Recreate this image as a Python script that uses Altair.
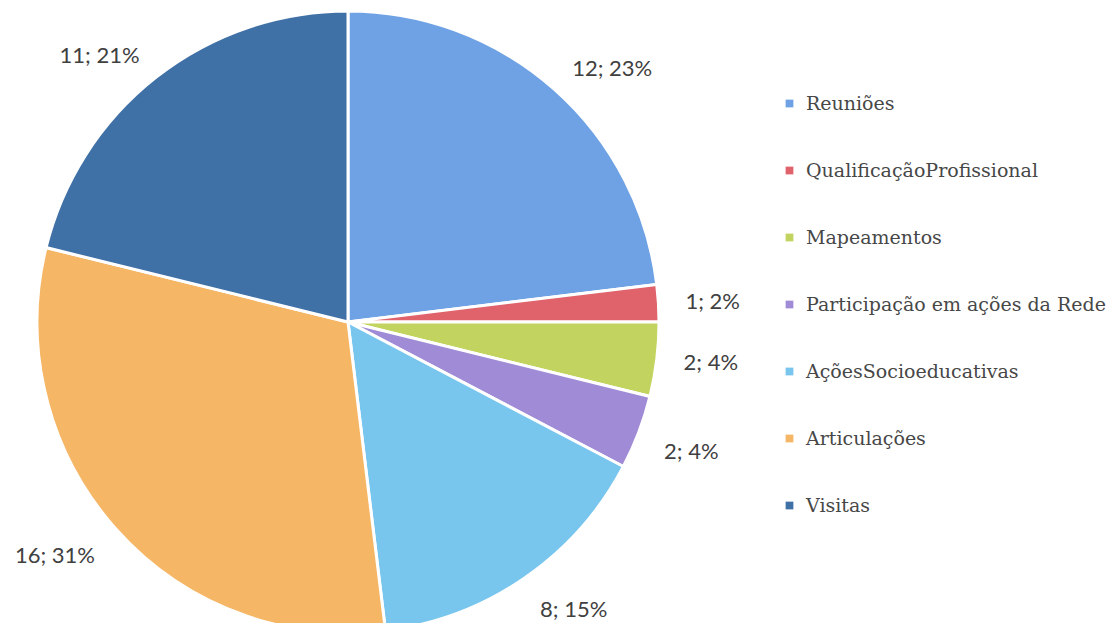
import altair as alt
import pandas as pd

categories = ["Reuniões", "QualificaçãoProfissional", "Mapeamentos",
              "Participação em ações da Rede", "AçõesSocioeducativas",
              "Articulações", "Visitas"]
values = [12, 1, 2, 2, 8, 16, 11]
percents = [23, 2, 4, 4, 15, 31, 21]
colors = ["#6fa2e4", "#e0626b", "#c3d35f", "#a08bd6", "#78c5ee", "#f5b666", "#3f70a6"]

df = pd.DataFrame({
    "cat": categories,
    "val": values,
    "idx": list(range(len(categories))),
    "label": [f"{v}; {p}%" for v, p in zip(values, percents)],
})

CX, CY = 340, 314

base = alt.Chart(df).transform_window(
    cum="sum(val)", sort=[alt.SortField("idx")]
).transform_joinaggregate(
    total="sum(val)"
).transform_calculate(
    start="(datum.cum - datum.val) / datum.total",
    end="datum.cum / datum.total",
    mid="(datum.cum - datum.val / 2) / datum.total",
)

theta_scale = alt.Scale(domain=[0, 1])

color = alt.Color(
    "cat:N",
    scale=alt.Scale(domain=categories, range=colors),
    sort=categories,
    legend=alt.Legend(
        title=None, orient="none", legendX=772, legendY=86,
        symbolType="square", symbolSize=60, symbolStrokeWidth=0,
        labelFont="DejaVu Serif", labelFontSize=19, labelColor="#474747",
        rowPadding=47, labelOffset=7, labelLimit=400,
    ),
)

pie = base.mark_arc(outerRadius=311, stroke="white", strokeWidth=3).encode(
    theta=alt.Theta("start:Q", scale=theta_scale),
    theta2="end:Q",
    color=color,
    x=alt.value(CX), y=alt.value(CY),
)

def label_layer(cond, align, baseline):
    return base.transform_filter(cond).mark_text(
        radius=338, font="Lato", fontSize=22, color="#404040",
        align=align, baseline=baseline,
    ).encode(
        theta=alt.Theta("mid:Q", scale=theta_scale),
        text="label:N",
        x=alt.value(CX), y=alt.value(CY),
    )

labels = [
    label_layer("datum.mid < 0.3", "left", "middle"),
    label_layer("datum.mid >= 0.3 && datum.mid < 0.5", "left", "top"),
    label_layer("datum.mid >= 0.5 && datum.mid < 0.75", "right", "top"),
    label_layer("datum.mid >= 0.75", "right", "middle"),
]

chart = alt.layer(pie, *labels).properties(
    width=1098, height=615, padding=0, background="white",
    autosize=alt.AutoSizeParams(type="none"),
).configure_view(stroke=None)

chart.save("out.html", embed_options={"renderer": "svg", "actions": False})
